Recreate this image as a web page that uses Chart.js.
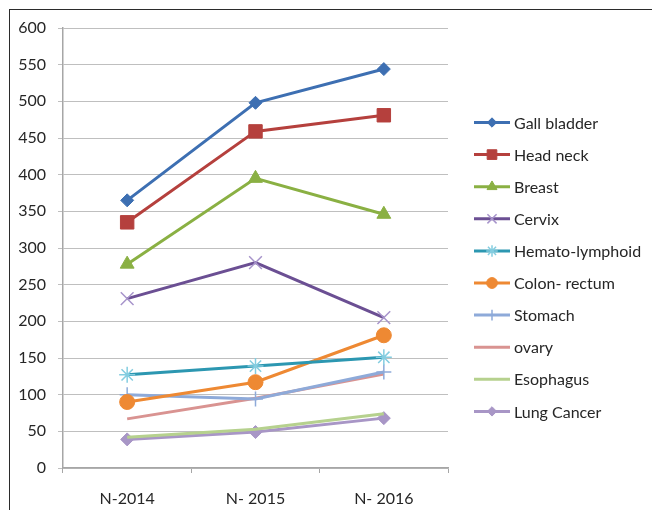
<!DOCTYPE html>
<html>
<head>
<meta charset="utf-8">
<script src="https://cdn.jsdelivr.net/npm/chart.js@4.4.1/dist/chart.umd.min.js"></script>
<style>
  html, body { margin: 0; padding: 0; background: #fff; }
  #wrap { position: relative; width: 652px; height: 510px; overflow: hidden; }
  #frame { position: absolute; left: 9px; top: 9px; width: 700px; height: 600px; border: 1.5px solid #2b2b2b; pointer-events: none; }
</style>
</head>
<body>
<div id="wrap">
  <canvas id="chart" width="652" height="510"></canvas>
  <div id="frame"></div>
</div>
<script>
const years = ["N-2014", "N- 2015", "N- 2016"];
const seriesNames = ["Gall bladder", "Head neck", "Breast", "Cervix", "Hemato-lymphoid", "Colon- rectum", "Stomach", "ovary", "Esophagus", "Lung Cancer"];
const gallBladder = [365, 498, 544];
const headNeck = [335, 459, 481];
const breast = [278, 395, 346];
const cervix = [231, 280, 205];
const hemato = [127, 139, 151];
const colonRectum = [90, 117, 181];
const stomach = [100, 94, 131];
const ovary = [67, 95, 128];
const esophagus = [42, 53, 74];
const lungCancer = [39, 49, 68];
const yTicks = [0, 50, 100, 150, 200, 250, 300, 350, 400, 450, 500, 550, 600];

const seriesValues = [gallBladder, headNeck, breast, cervix, hemato, colonRectum, stomach, ovary, esophagus, lungCancer];
const lineColors = ["#3d6fb2", "#b5403d", "#8ab043", "#6b4f93", "#2c97b1", "#ee8933", "#8eaad9", "#d99391", "#b6d18e", "#a896c6"];
const markerColors = ["#3d6fb2", "#b5403d", "#8ab043", "#a794cb", "#84cde0", "#ee8933", "#8eaad9", "#d99391", "#b6d18e", "#a896c6"];
const markerStyles = ["rectRot", "rect", "triangle", "crossRot", "star", "circle", "cross", false, false, "rectRot"];
const markerSizes = [6.5, 9.5, 8, 9, 8, 7.5, 7.5, 0, 0, 6.5];

const datasets = seriesNames.map((name, i) => ({
  label: name,
  data: seriesValues[i],
  borderColor: lineColors[i],
  borderWidth: 3,
  pointStyle: markerStyles[i] || "circle",
  pointRadius: markerSizes[i],
  pointHoverRadius: markerSizes[i],
  pointBackgroundColor: markerColors[i],
  pointBorderColor: markerColors[i],
  pointBorderWidth: (markerStyles[i] === "crossRot" || markerStyles[i] === "star" || markerStyles[i] === "cross") ? 1.5 : 1,
  tension: 0,
  fill: false
}));

const sideLegend = {
  id: "sideLegend",
  afterDraw(chart) {
    const { ctx, chartArea } = chart;
    const x0 = chartArea.right + 26;
    let y = 122.5;
    chart.data.datasets.forEach((ds) => {
      ctx.save();
      ctx.strokeStyle = ds.borderColor;
      ctx.lineWidth = 3;
      ctx.beginPath();
      ctx.moveTo(x0, y);
      ctx.lineTo(x0 + 36, y);
      ctx.stroke();
      if (ds.pointRadius > 0) {
        ctx.fillStyle = ds.pointBackgroundColor;
        ctx.strokeStyle = ds.pointBorderColor;
        ctx.lineWidth = ds.pointBorderWidth;
        Chart.helpers.drawPoint(ctx, { pointStyle: ds.pointStyle, radius: ds.pointRadius * 0.72, rotation: 0, borderWidth: ds.pointBorderWidth }, x0 + 18, y);
      }
      ctx.fillStyle = "#262626";
      ctx.font = "16px Lato";
      ctx.textBaseline = "middle";
      ctx.textAlign = "left";
      ctx.fillText(ds.label, x0 + 40, y + 1);
      ctx.restore();
      y += 32.1;
    });
  }
};

new Chart(document.getElementById("chart"), {
  type: "line",
  data: { labels: years, datasets },
  plugins: [sideLegend],
  options: {
    responsive: false,
    animation: false,
    devicePixelRatio: 1,
    layout: { padding: { left: 0, top: 28, right: 204, bottom: 0 } },
    plugins: { legend: { display: false }, tooltip: { enabled: false } },
    scales: {
      x: {
        offset: true,
        grid: { offset: true, drawOnChartArea: false, drawTicks: true, tickLength: 5, color: "#a6a6a6" },
        border: { color: "#a6a6a6", width: 1.5 },
        ticks: { color: "#262626", font: { family: "Lato", size: 16 }, padding: 16, maxRotation: 0 },
        afterFit(scale) { scale.height = 42; }
      },
      y: {
        min: 0,
        max: 600,
        afterBuildTicks(scale) { scale.ticks = yTicks.map((v) => ({ value: v })); },
        grid: { color: "#bfbfbf", lineWidth: 1, tickLength: 5 },
        border: { color: "#a6a6a6", width: 1.5 },
        ticks: { color: "#262626", font: { family: "Lato", size: 16 }, padding: 12 },
        afterFit(scale) { scale.width = 63; }
      }
    }
  }
});
</script>
</body>
</html>
